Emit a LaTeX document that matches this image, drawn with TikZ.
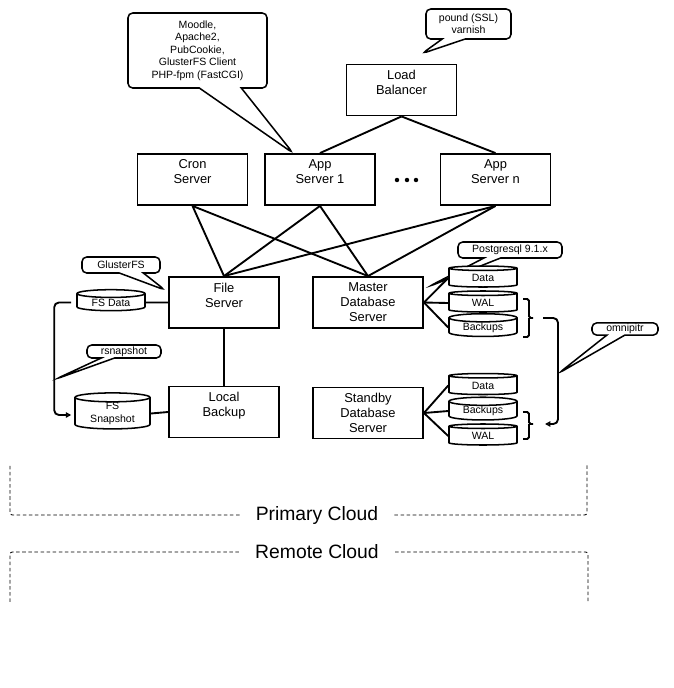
\documentclass[tikz,border=0pt]{standalone}
\usepackage{fontspec}
\setmainfont{Liberation Sans}
\usetikzlibrary{arrows.meta,calc,shapes.geometric,shapes.callouts}
\tikzset{
	server/.style={draw, line width=1.6pt, inner sep=0pt, fill=white},
	disk/.style={cylinder, shape border rotate=90, aspect=0.2, draw, line width=1.3pt, fill=white,
			inner sep=0pt, minimum width=2.04cm, minimum height=0.63cm, align=center,
			font=\fontsize{9}{10.5}\selectfont},
	note/.style={rectangle callout, rounded corners=4pt, draw, line width=1.3pt, fill=white,
			align=center, inner sep=1pt, font=\fontsize{9}{10.5}\selectfont},
	link/.style={line width=1.6pt},
	cloudline/.style={line width=0.75pt, dash pattern=on 3pt off 2.2pt, rounded corners=2pt},
	cloudlabel/.style={inner xsep=0.48cm, inner ysep=0pt, font=\fontsize{16.5}{19}\selectfont},
}
\newcommand{\servertext}[1]{\parbox[c][1.53cm][t]{3.3cm}{\centering\fontsize{11}{12.8}\selectfont\vspace{5pt}#1}}

\begin{document}
\begin{tikzpicture}[x=0.03cm, y=-0.03cm, >=Stealth]
	\useasboundingbox (0,0) rectangle (674,688);

	% servers
	\node[server] (lb) at (401.5,90) {\servertext{Load\\Balancer}};
	\node[server] (cron) at (192.5,179.5) {\servertext{Cron\\Server}};
	\node[server] (appA) at (320,179.5) {\servertext{App\\Server 1}};
	\node[server] (appN) at (495.5,179.5) {\servertext{App\\Server n}};
	\node[server] (file) at (224,302.5) {\servertext{File\\Server}};
	\node[server] (master) at (368,302.5) {\servertext{Master\\Database\\Server}};
	\node[server] (local) at (224,412) {\servertext{Local\\Backup}};
	\node[server] (standby) at (368,413) {\servertext{Standby\\Database\\Server}};
	\fill (397,180) circle (1.9pt) (407,180) circle (1.9pt) (416,180) circle (1.9pt);

	% callouts
	\coordinate (rsnaptip) at (56,379);
	\coordinate (omnitip) at (559,373);
	\node[note, minimum width=4.17cm, minimum height=2.25cm, callout pointer width=1.26cm,
		font=\fontsize{9}{10.7}\selectfont,
		callout absolute pointer={($(appA.north)+(-27,0)$)}] (appnote) at (197.5,50.5)
		{Moodle,\\Apache2,\\PubCookie,\\GlusterFS Client\\PHP-fpm (FastCGI)};
	\node[note, minimum width=2.55cm, minimum height=0.9cm, callout pointer width=0.69cm,
		font=\fontsize{9}{10.2}\selectfont,
		callout absolute pointer={($(lb.north)+(20.5,-10)$)}] (lbnote) at (468.5,24)
		{pound (SSL)\\varnish};
	\node[note, minimum width=2.34cm, minimum height=0.48cm, callout pointer width=0.72cm,
		callout absolute pointer={($(file.north west)+(-3,14)$)}] (fsnote) at (121,265) {GlusterFS};
	\node[note, minimum width=3.12cm, minimum height=0.48cm, callout pointer width=0.5cm,
		callout absolute pointer={($(master.east)+(5,-16)$)}] (pgnote) at (510,250) {Postgresql 9.1.x};
	\node[note, minimum width=2.22cm, minimum height=0.39cm, callout pointer width=0.4cm,
		callout absolute pointer={(rsnaptip)}] (rsnote) at (124,351.5) {rsnapshot};
	\node[note, minimum width=1.98cm, minimum height=0.36cm, callout pointer width=0.54cm,
		callout absolute pointer={(omnitip)}] (omninote) at (625,329) {omnipitr};

	% disks
	\node[disk] (fsdata) at (111,302.5) {FS Data};
	\node[disk, minimum width=2.25cm, minimum height=0.99cm] (fssnap) at (112.5,413.5) {FS\\Snapshot};
	\node[disk] (mdata) at (483,278) {Data};
	\node[disk] (mwal) at (483,303) {WAL};
	\node[disk] (mback) at (483,327.5) {Backups};
	\node[disk] (sdata) at (483,385.5) {Data};
	\node[disk] (sback) at (483,411) {Backups};
	\node[disk] (swal) at (483,436) {WAL};

	% links
	\draw[link] (lb.south) -- (appA.north);
	\draw[link] (lb.south) -- (appN.north);
	\draw[link] (cron.south) -- (file.north);
	\draw[link] (cron.south) -- (master.north);
	\draw[link] (appA.south) -- (file.north);
	\draw[link] (appA.south) -- (master.north);
	\draw[link] (appN.south) -- (file.north);
	\draw[link] (appN.south) -- (master.north);
	\draw[link] (file.south) -- (local.north);
	\draw[link] (fsdata.east) -- (file.west);
	\draw[link] (fssnap.east) -- (local.west);
	\draw[link] (master.east) -- (mdata.west);
	\draw[link] (master.east) -- (mwal.west);
	\draw[link] (master.east) -- (mback.west);
	\draw[link] (standby.east) -- (sdata.west);
	\draw[link] (standby.east) -- (sback.west);
	\draw[link] (standby.east) -- (swal.west);

	% snapshot and wal shipping
	\draw[link, rounded corners=4pt, -{Triangle[open, length=4.5pt, width=4.5pt]}]
		($(fsdata.west)+(-5,0)$) -- ++(-17,0) |- ($(fssnap.west)+(-3,1.5)$);
	\coordinate (mbrace) at (533,318);
	\coordinate (sbrace) at (533,424);
	\draw[link, rounded corners=1.5pt] (523,299) -- (529,299) -- (529,318) -- (mbrace)
		(529,318) -- (529,337) -- (523,337);
	\draw[link, rounded corners=1.5pt] (523,412) -- (529,412) -- (529,424) -- (sbrace)
		(529,424) -- (529,439) -- (523,439);
	\draw[link, rounded corners=4pt, -{Triangle[open, length=4.5pt, width=4.5pt]}]
		($(mbrace)+(10,0)$) -- ++(15,0) |- ($(sbrace)+(12,0)$);

	% clouds
	\node[cloudlabel] (primary) at (317,515) {Primary Cloud};
	\draw[cloudline] (primary.west) -| (10,465);
	\draw[cloudline] (primary.east) -| (587,465);
	\node[cloudlabel] (remote) at (317,552) {Remote Cloud};
	\draw[cloudline] (remote.west) -| (10,602);
	\draw[cloudline] (remote.east) -| (588,602);
\end{tikzpicture}
\end{document}
